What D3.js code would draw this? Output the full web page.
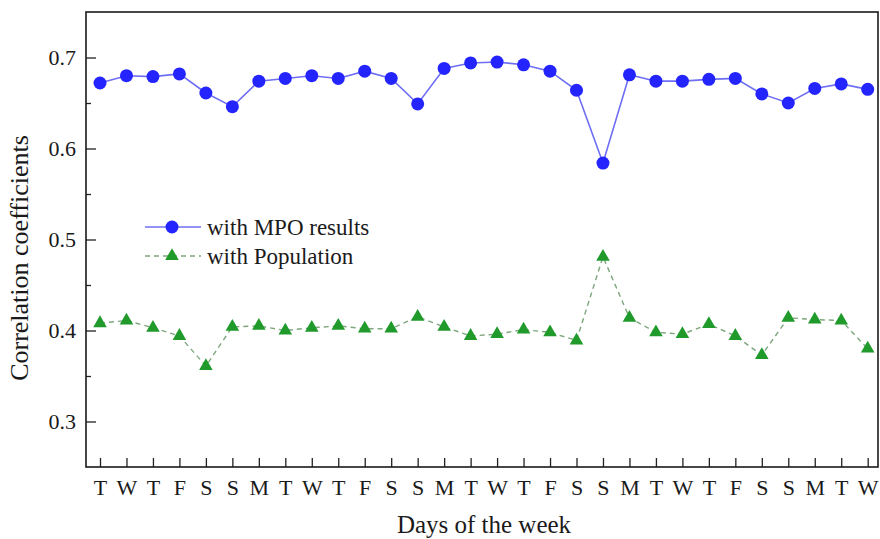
<!DOCTYPE html>
<html>
<head>
<meta charset="utf-8">
<script src="https://cdn.jsdelivr.net/npm/d3@7/dist/d3.min.js"></script>
<style>
  html, body { margin: 0; padding: 0; background: #ffffff; }
  svg { display: block; }
  text { font-family: "Liberation Serif", "Times New Roman", serif; fill: #1a1a1a; }
</style>
</head>
<body>
<svg id="chart" width="880" height="539"></svg>
<script>
// Day-of-week labels along the x axis (30 consecutive days)
const days = ["T","W","T","F","S","S","M",
              "T","W","T","F","S","S","M",
              "T","W","T","F","S","S","M",
              "T","W","T","F","S","S","M",
              "T","W"];

// Correlation coefficients with MPO results
const mpoValues = [0.672, 0.680, 0.679, 0.682, 0.661, 0.646, 0.674,
                   0.677, 0.680, 0.677, 0.685, 0.677, 0.649, 0.688,
                   0.694, 0.695, 0.692, 0.685, 0.664, 0.584, 0.681,
                   0.674, 0.674, 0.676, 0.677, 0.660, 0.650, 0.666,
                   0.671, 0.665];

// Correlation coefficients with population
const popValues = [0.408, 0.411, 0.403, 0.394, 0.361, 0.404, 0.405,
                   0.400, 0.403, 0.405, 0.402, 0.402, 0.415, 0.404,
                   0.394, 0.396, 0.401, 0.398, 0.389, 0.481, 0.414,
                   0.398, 0.396, 0.407, 0.394, 0.373, 0.414, 0.412,
                   0.411, 0.380];

const yMajorTicks = [0.3, 0.4, 0.5, 0.6, 0.7];
const yMinorTicks = [0.35, 0.45, 0.55, 0.65];

const seriesNames = ["with MPO results", "with Population"];

const svg = d3.select("#chart");

const frame = { left: 86, top: 12, right: 878, bottom: 467 };

const x = d3.scaleLinear()
  .domain([0, days.length - 1])
  .range([100, 867.7]);

const y = d3.scaleLinear()
  .domain([0.25, 0.75])
  .range([frame.bottom, frame.top]);

// Minor y ticks (inside the frame)
svg.append("g")
  .attr("transform", `translate(${frame.left},0)`)
  .call(d3.axisLeft(y).tickValues(yMinorTicks).tickSize(-5).tickFormat(""))
  .call(g => g.select(".domain").remove())
  .call(g => g.selectAll("line").attr("stroke", "#222").attr("stroke-width", 1.3));

// Major y ticks with labels
svg.append("g")
  .attr("transform", `translate(${frame.left},0)`)
  .call(d3.axisLeft(y).tickValues(yMajorTicks).tickSize(-10).tickPadding(10)
        .tickFormat(d3.format(".1f")))
  .call(g => g.select(".domain").remove())
  .call(g => g.selectAll("line").attr("stroke", "#222").attr("stroke-width", 1.3))
  .call(g => g.selectAll("text")
    .style("font-family", "'Liberation Serif', serif")
    .attr("font-size", 22).attr("fill", "#1a1a1a"));

// x ticks with day labels
svg.append("g")
  .attr("transform", `translate(0,${frame.bottom})`)
  .call(d3.axisBottom(x).tickValues(d3.range(days.length)).tickSize(-9).tickPadding(12)
        .tickFormat(i => days[i]))
  .call(g => g.select(".domain").remove())
  .call(g => g.selectAll("line").attr("stroke", "#222").attr("stroke-width", 1.3))
  .call(g => g.selectAll("text")
    .style("font-family", "'Liberation Serif', serif")
    .attr("font-size", 22).attr("fill", "#1a1a1a"));

// Plot frame
svg.append("rect")
  .attr("x", frame.left).attr("y", frame.top)
  .attr("width", frame.right - frame.left)
  .attr("height", frame.bottom - frame.top)
  .attr("fill", "none")
  .attr("stroke", "#1a1a1a")
  .attr("stroke-width", 1.6);

// Axis titles
svg.append("text")
  .attr("transform", "translate(28,258) rotate(-90)")
  .attr("text-anchor", "middle")
  .attr("font-size", 26)
  .text("Correlation coefficients");

svg.append("text")
  .attr("x", 484).attr("y", 533)
  .attr("text-anchor", "middle")
  .attr("font-size", 25)
  .text("Days of the week");

const line = d3.line()
  .x((d, i) => x(i))
  .y(d => y(d));

// Population series: dashed green line with triangles
svg.append("path")
  .datum(popValues)
  .attr("d", line)
  .attr("fill", "none")
  .attr("stroke", "#7da67d")
  .attr("stroke-width", 1.4)
  .attr("stroke-dasharray", "5,4");

const tri = d3.symbol().type(d3.symbolTriangle).size(80);

svg.append("g").selectAll("path")
  .data(popValues)
  .join("path")
  .attr("d", tri)
  .attr("transform", (d, i) => `translate(${x(i)},${y(d)})`)
  .attr("fill", "#1f9a2b");

// MPO series: solid blue line with circles
svg.append("path")
  .datum(mpoValues)
  .attr("d", line)
  .attr("fill", "none")
  .attr("stroke", "#6e6ef5")
  .attr("stroke-width", 1.6);

svg.append("g").selectAll("circle")
  .data(mpoValues)
  .join("circle")
  .attr("cx", (d, i) => x(i))
  .attr("cy", d => y(d))
  .attr("r", 6.5)
  .attr("fill", "#2424ff");

// Legend
const legend = svg.append("g");
const legendRows = [
  { name: seriesNames[0], y: 227, kind: "circle" },
  { name: seriesNames[1], y: 256, kind: "triangle" }
];
legendRows.forEach(r => {
  if (r.kind === "circle") {
    legend.append("line")
      .attr("x1", 145).attr("x2", 201).attr("y1", r.y).attr("y2", r.y)
      .attr("stroke", "#6e6ef5").attr("stroke-width", 1.6);
    legend.append("circle")
      .attr("cx", 172).attr("cy", r.y).attr("r", 6.5).attr("fill", "#2424ff");
  } else {
    legend.append("line")
      .attr("x1", 145).attr("x2", 201).attr("y1", r.y).attr("y2", r.y)
      .attr("stroke", "#7da67d").attr("stroke-width", 1.4)
      .attr("stroke-dasharray", "5,4");
    legend.append("path")
      .attr("d", tri)
      .attr("transform", `translate(172,${r.y})`)
      .attr("fill", "#1f9a2b");
  }
  legend.append("text")
    .attr("x", 207).attr("y", r.y)
    .attr("dy", "0.35em")
    .attr("font-size", 23)
    .text(r.name);
});
</script>
</body>
</html>
